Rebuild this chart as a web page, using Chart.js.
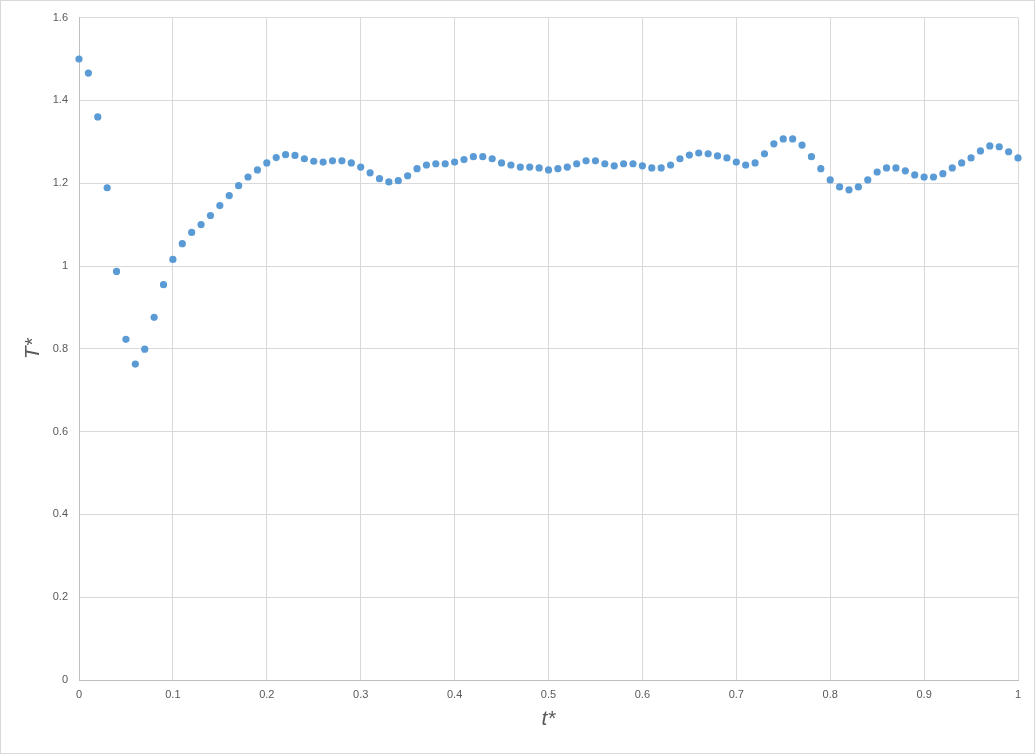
<!DOCTYPE html>
<html>
<head>
<meta charset="utf-8">
<script src="https://cdn.jsdelivr.net/npm/chart.js@4.4.0/dist/chart.umd.min.js"></script>
<style>
  body { margin: 0; background: #fff; }
  #wrap { width: 1035px; height: 754px; }
</style>
</head>
<body>
<div id="wrap"><canvas id="chart" width="1035" height="754"></canvas></div>
<script>
// t* (dimensionless time)
var tValues = [
  0, 0.01, 0.02, 0.03, 0.04, 0.05, 0.06, 0.07, 0.08, 0.09,
  0.1, 0.11, 0.12, 0.13, 0.14, 0.15, 0.16, 0.17, 0.18, 0.19,
  0.2, 0.21, 0.22, 0.23, 0.24, 0.25, 0.26, 0.27, 0.28, 0.29,
  0.3, 0.31, 0.32, 0.33, 0.34, 0.35, 0.36, 0.37, 0.38, 0.39,
  0.4, 0.41, 0.42, 0.43, 0.44, 0.45, 0.46, 0.47, 0.48, 0.49,
  0.5, 0.51, 0.52, 0.53, 0.54, 0.55, 0.56, 0.57, 0.58, 0.59,
  0.6, 0.61, 0.62, 0.63, 0.64, 0.65, 0.66, 0.67, 0.68, 0.69,
  0.7, 0.71, 0.72, 0.73, 0.74, 0.75, 0.76, 0.77, 0.78, 0.79,
  0.8, 0.81, 0.82, 0.83, 0.84, 0.85, 0.86, 0.87, 0.88, 0.89,
  0.9, 0.91, 0.92, 0.93, 0.94, 0.95, 0.96, 0.97, 0.98, 0.99,
  1
];

// T*
var TValues = [
  1.500, 1.466, 1.360, 1.189, 0.987, 0.823, 0.763, 0.799, 0.876, 0.955,
  1.016, 1.054, 1.081, 1.100, 1.122, 1.146, 1.170, 1.194, 1.215, 1.232,
  1.249, 1.262, 1.269, 1.267, 1.259, 1.253, 1.251, 1.254, 1.254, 1.249,
  1.239, 1.225, 1.211, 1.203, 1.206, 1.218, 1.235, 1.244, 1.247, 1.247,
  1.251, 1.257, 1.264, 1.264, 1.259, 1.249, 1.244, 1.239, 1.239, 1.237,
  1.232, 1.235, 1.239, 1.247, 1.254, 1.254, 1.247, 1.242, 1.247, 1.247,
  1.242, 1.237, 1.237, 1.244, 1.259, 1.268, 1.273, 1.271, 1.266, 1.261,
  1.251, 1.244, 1.249, 1.271, 1.295, 1.307, 1.307, 1.292, 1.264, 1.235,
  1.208, 1.191, 1.184, 1.191, 1.208, 1.227, 1.237, 1.237, 1.230, 1.220,
  1.215, 1.215, 1.223, 1.237, 1.249, 1.261, 1.278, 1.290, 1.288, 1.276,
  1.261
];

var xTicks = [0, 0.1, 0.2, 0.3, 0.4, 0.5, 0.6, 0.7, 0.8, 0.9, 1];
var yTicks = [0, 0.2, 0.4, 0.6, 0.8, 1, 1.2, 1.4, 1.6];

var points = tValues.map(function(t, i) {
  return { x: t, y: TValues[i] };
});

var tickFont = { family: "'Liberation Sans', Arial, sans-serif", size: 11 };
var titleFont = { family: "'Liberation Sans', Arial, sans-serif", size: 21, style: 'italic' };

// thin grey frame round the whole picture
var frame = {
  id: 'frame',
  afterDraw: function(chart) {
    var ctx = chart.ctx;
    ctx.save();
    ctx.strokeStyle = '#d9d9d9';
    ctx.lineWidth = 1;
    ctx.strokeRect(0.5, 0.5, chart.width - 1, chart.height - 1);
    ctx.restore();
  }
};

new Chart(document.getElementById('chart'), {
  type: 'scatter',
  data: {
    datasets: [{
      data: points,
      backgroundColor: '#5b9bd5',
      borderWidth: 0,
      pointRadius: 3.6,
      pointHoverRadius: 3.6,
      clip: false
    }]
  },
  options: {
    responsive: false,
    devicePixelRatio: 1,
    animation: false,
    layout: { padding: { left: 0, top: 15, right: 17, bottom: 0 } },
    plugins: {
      legend: { display: false },
      tooltip: { enabled: false }
    },
    scales: {
      x: {
        type: 'linear',
        min: xTicks[0],
        max: xTicks[xTicks.length - 1],
        afterBuildTicks: function(scale) {
          scale.ticks = xTicks.map(function(v) { return { value: v }; });
        },
        afterFit: function(scale) { scale.height = 74; },
        ticks: {
          color: '#595959',
          font: tickFont,
          padding: 8,
          maxRotation: 0,
          callback: function(v) { return String(+v.toFixed(1)); }
        },
        grid: { color: '#d9d9d9', drawTicks: false },
        border: { color: '#bfbfbf' },
        title: {
          display: true,
          text: 't*',
          color: '#595959',
          font: titleFont,
          padding: { top: 22, bottom: 22 }
        }
      },
      y: {
        type: 'linear',
        min: yTicks[0],
        max: yTicks[yTicks.length - 1],
        afterBuildTicks: function(scale) {
          scale.ticks = yTicks.map(function(v) { return { value: v }; });
        },
        afterFit: function(scale) { scale.width = 79; },
        ticks: {
          color: '#595959',
          font: tickFont,
          padding: 11,
          callback: function(v) { return String(+v.toFixed(1)); }
        },
        grid: { color: '#d9d9d9', drawTicks: false },
        border: { color: '#bfbfbf' },
        title: {
          display: true,
          text: 'T*',
          color: '#595959',
          font: titleFont,
          padding: { top: 21 }
        }
      }
    }
  },
  plugins: [frame]
});
</script>
</body>
</html>
